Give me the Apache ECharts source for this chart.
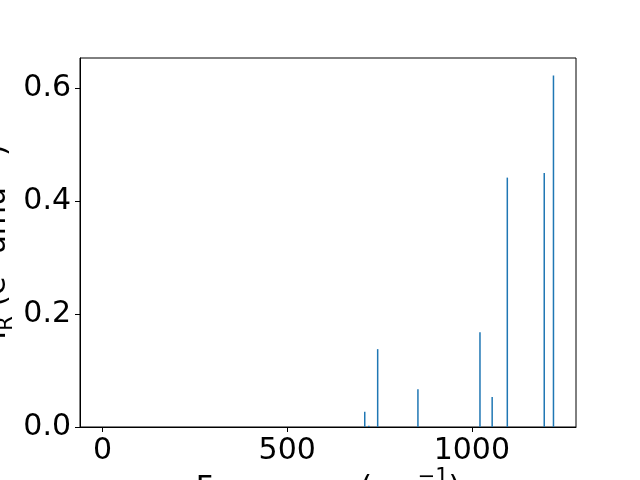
<!DOCTYPE html>
<html>
<head>
<meta charset="utf-8">
<script src="https://cdn.jsdelivr.net/npm/echarts@6/dist/echarts.min.js"></script>
<style>html,body{margin:0;padding:0;background:#fff}#c{width:640px;height:480px}</style>
</head>
<body>
<div id="c"></div>
<script>
var frequencies = [710, 721, 745, 854, 1022, 1055, 1096, 1196, 1221];
var intensities = [0.027, 0.002, 0.138, 0.067, 0.168, 0.053, 0.442, 0.450, 0.623];
var xTicks = [0, 500, 1000];
var yTicks = [0.0, 0.2, 0.4, 0.6];
var xName = 'Frequency (cm{sup|−1})';
var yName = 'I{sub|R} (e{sup|2} amu{sup|−1})';

var FONT = 'DejaVu Sans';
var chart = echarts.init(document.getElementById('c'), null, {renderer: 'canvas'});
var data = frequencies.map(function (f, i) { return [f, intensities[i]]; });
var rich = {
  sub: {fontSize: 21, fontFamily: FONT, color: '#000', verticalAlign: 'bottom', padding: [0,0,-5,0]},
  sup: {fontSize: 21, fontFamily: FONT, color: '#000', verticalAlign: 'top', padding: [-7,0,0,0]}
};
chart.setOption({
  animation: false,
  backgroundColor: '#fff',
  grid: {left: 80, right: 64, top: 58, bottom: 53, show: true, borderColor: '#000', borderWidth: 1, backgroundColor: 'transparent'},
  xAxis: {
    type: 'value', min: -61, max: 1282,
    axisLine: {show: true, onZero: false, lineStyle: {color: '#000', width: 1}},
    axisTick: {show: true, length: 5, customValues: xTicks, lineStyle: {color: '#000', width: 1}},
    axisLabel: {customValues: xTicks, margin: 9, fontSize: 30, fontFamily: FONT, color: '#000', formatter: function (v) { return String(v); }},
    splitLine: {show: false}
  },
  yAxis: {
    type: 'value', min: 0, max: 0.654,
    axisLine: {show: true, onZero: false, lineStyle: {color: '#000', width: 1}},
    axisTick: {show: true, length: 5, customValues: yTicks, lineStyle: {color: '#000', width: 1}},
    axisLabel: {customValues: yTicks, margin: 9, fontSize: 30, fontFamily: FONT, color: '#000', formatter: function (v) { return v.toFixed(1); }},
    splitLine: {show: false}
  },
  series: [{
    type: 'custom',
    data: data,
    renderItem: function (params, api) {
      var p0 = api.coord([api.value(0), 0]);
      var p1 = api.coord([api.value(0), api.value(1)]);
      return {type: 'line', shape: {x1: p0[0], y1: p0[1], x2: p1[0], y2: p1[1]}, style: {stroke: '#1f77b4', lineWidth: 1.5}};
    },
    encode: {x: 0, y: 1},
    z: 1
  }],
  graphic: [
    {type: 'text', x: 328, y: 474, style: {text: xName, fontSize: 30, fontFamily: FONT, fill: '#000', align: 'center', verticalAlign: 'top', rich: rich}},
    {type: 'text', x: -3, y: 242, rotation: Math.PI / 2, style: {text: yName, fontSize: 30, fontFamily: FONT, fill: '#000', align: 'center', verticalAlign: 'middle', rich: rich}}
  ]
});
</script>
</body>
</html>
